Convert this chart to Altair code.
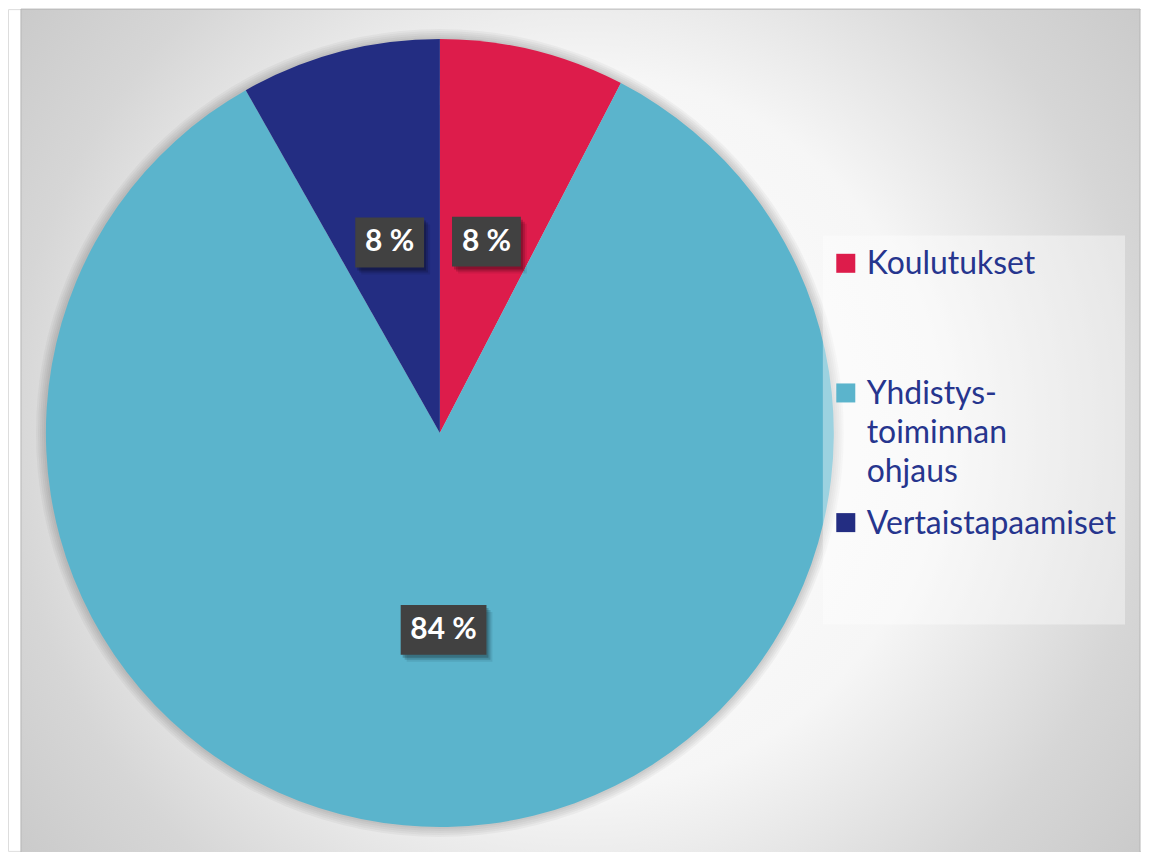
import math
import altair as alt
import pandas as pd

# ---- data ----
categories = ["Koulutukset", "Yhdistystoiminnan ohjaus", "Vertaistapaamiset"]
values = [7.6, 84.2, 8.2]
colors = ["#DD1C4B", "#5BB4CC", "#232D82"]
legend_lines = {"Yhdistystoiminnan ohjaus": ["Yhdistys-", "toiminnan", "ohjaus"]}

# ---- layout ----
W, H = 1136, 844
CX, CY, R = 433, 425, 395
LABEL_R = 0.5 * R
FONT = "Lato"

total = sum(values)
rows = []
cum = 0.0
for i, (c, v) in enumerate(zip(categories, values)):
    mid = (cum + v / 2) / total * 2 * math.pi
    cum += v
    lab = f"{round(v / total * 100)} %"
    tw = sum(17 if ch.isdigit() else 7 if ch == " " else 25 for ch in lab)
    cx = CX + LABEL_R * math.sin(mid)
    cy = CY - LABEL_R * math.cos(mid)
    rows.append(dict(cat=c, value=v, order=i, label=lab, cx=cx, cy=cy,
                     x1=cx - tw / 2 - 10, x2=cx + tw / 2 + 10,
                     y1=cy - 25, y2=cy + 25))
df = pd.DataFrame(rows)
one = pd.DataFrame({"a": [0]})

xs = alt.Scale(domain=[0, W], nice=False, zero=False)
ys = alt.Scale(domain=[0, H], nice=False, zero=False, reverse=True)

bg_grad = alt.Gradient(
    gradient="radial",
    stops=[alt.GradientStop(color="#ffffff", offset=0),
           alt.GradientStop(color="#f6f6f6", offset=0.45),
           alt.GradientStop(color="#d6d6d6", offset=0.72),
           alt.GradientStop(color="#c2c2c2", offset=1)],
    x1=0.5, y1=0.5, r1=0, x2=0.5, y2=0.5, r2=0.71)

bg = alt.Chart(one).mark_rect(fill=bg_grad, stroke="#b5b5b5", strokeWidth=1).encode(
    x=alt.value(13), x2=alt.value(1135), y=alt.value(0), y2=alt.value(H + 4))

glow = [alt.Chart(one).mark_arc(radius=R + k, theta=0, theta2=6.2832, fill="#000000",
                                opacity=0.035).encode(x=alt.value(CX), y=alt.value(CY))
        for k in (10, 8, 6, 4, 2)]

expr = " : ".join(
    [f"datum.label == '{k}' ? {v!r}" for k, v in legend_lines.items()] + ["datum.label"])

pie = alt.Chart(df).mark_arc(radius=R).encode(
    theta=alt.Theta("value:Q", stack=True),
    order=alt.Order("order:Q"),
    color=alt.Color("cat:N", sort=categories,
                    scale=alt.Scale(domain=categories, range=colors),
                    legend=alt.Legend(
                        title=None, orient="none", legendX=824, legendY=225,
                        direction="vertical",
                        symbolType="M-1.1,0.5L1.1,0.5L1.1,2.7L-1.1,2.7Z",
                        symbolSize=300, symbolStrokeWidth=0,
                        labelFont=FONT, labelFontSize=32, labelColor="#26358E",
                        labelOffset=5, labelLimit=400, labelBaseline="top",
                        labelExpr=expr, rowPadding=5, gridAlign="all", padding=0)),
    x=alt.value(CX), y=alt.value(CY))

legend_box = alt.Chart(one).mark_rect(fill="#ffffff", opacity=0.4).encode(
    x=alt.value(817), x2=alt.value(1120), y=alt.value(227), y2=alt.value(617))

def box_layer(**kw):
    return alt.Chart(df).mark_rect(**kw).encode(
        x=alt.X("x1:Q", scale=xs, axis=None), x2="x2:Q",
        y=alt.Y("y1:Q", scale=ys, axis=None), y2="y2:Q")

shadows = [box_layer(fill="#000000", opacity=op, xOffset=d, x2Offset=d, yOffset=d + 1, y2Offset=d + 1)
           for d, op in ((6, 0.08), (4, 0.15), (2, 0.2))]
boxes = box_layer(fill="#414141")

texts = alt.Chart(df).mark_text(font=FONT, fontWeight="bold", fontSize=30, color="white",
                                align="center", baseline="middle").encode(
    x=alt.X("cx:Q", scale=xs, axis=None),
    y=alt.Y("cy:Q", scale=ys, axis=None),
    text="label:N")

chart = alt.layer(bg, *glow, pie, legend_box, *shadows, boxes, texts).properties(
    width=W, height=H, padding=0, background="white",
    autosize=alt.AutoSizeParams(type="none")
).configure_view(stroke=None).configure(style={"guide-label": {"lineHeight": 39}})

chart.save("out.html", embed_options={"renderer": "svg", "actions": False})
